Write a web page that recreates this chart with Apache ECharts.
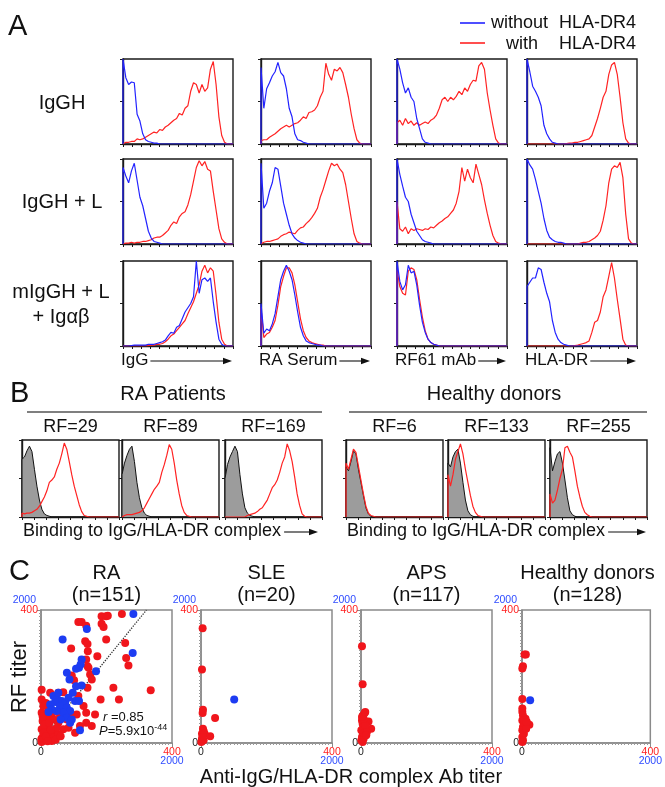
<!DOCTYPE html>
<html><head><meta charset="utf-8">
<script src="https://cdn.jsdelivr.net/npm/echarts@6/dist/echarts.min.js"></script>
<style>html,body{margin:0;padding:0;background:#fff}#c{width:665px;height:787px}</style>
</head><body><div id="c"></div>
<script>
// ---------------- Panel A data (40 channels, fraction of max) ----------------
const IgGH_IgG_without=[1.00,0.78,0.70,0.73,0.72,0.35,0.27,0.12,0.05,0.03,
0.02,0.01,0.01,0,0,0,0,0,0,0,
0,0,0,0,0,0,0,0,0,0,
0,0,0,0,0,0,0,0,0,0];
const IgGH_IgG_with=[0.01,0.02,0.02,0.03,0.03,0.06,0.05,0.06,0.08,0.10,
0.12,0.14,0.13,0.17,0.16,0.20,0.22,0.25,0.28,0.30,
0.36,0.34,0.42,0.45,0.62,0.72,0.70,0.60,0.70,0.62,
0.66,0.88,0.97,0.70,0.32,0.10,0.02,0,0,0];
const IgGH_RASerum_without=[0.90,0.42,0.65,0.72,0.80,0.85,0.96,0.84,0.80,0.65,
0.42,0.32,0.12,0.05,0.04,0.02,0.01,0,0,0,
0,0,0,0,0,0,0,0,0,0,
0,0,0,0,0,0,0,0,0,0];
const IgGH_RASerum_with=[0.04,0.05,0.05,0.08,0.10,0.12,0.15,0.18,0.20,0.22,
0.20,0.22,0.24,0.25,0.28,0.32,0.30,0.37,0.38,0.40,
0.45,0.55,0.62,0.95,0.82,0.75,0.88,0.86,0.90,0.84,
0.70,0.55,0.35,0.18,0.05,0.01,0,0,0,0];
const IgGH_RF61_without=[1.00,0.88,0.72,0.60,0.66,0.55,0.50,0.30,0.18,0.06,
0.02,0.01,0,0,0,0,0,0,0,0,
0,0,0,0,0,0,0,0,0,0,
0,0,0,0,0,0,0,0,0,0];
const IgGH_RF61_with=[0.25,0.28,0.22,0.30,0.24,0.27,0.22,0.25,0.22,0.24,
0.26,0.24,0.28,0.30,0.34,0.42,0.52,0.55,0.50,0.55,
0.52,0.56,0.62,0.58,0.66,0.62,0.70,0.75,0.74,0.92,
0.96,0.88,0.60,0.40,0.22,0.06,0.01,0,0,0];
const IgGH_HLADR_without=[1.00,0.85,0.68,0.62,0.55,0.45,0.22,0.12,0.06,0.02,
0.01,0,0,0,0,0,0,0,0,0,
0,0,0,0,0,0,0,0,0,0,
0,0,0,0,0,0,0,0,0,0];
const IgGH_HLADR_with=[0,0,0,0,0,0,0,0,0,0,
0,0,0,0,0.005,0.01,0.01,0.02,0.02,0.03,
0.04,0.05,0.06,0.10,0.20,0.30,0.42,0.55,0.62,0.82,
0.93,0.96,0.82,0.55,0.25,0.06,0.01,0,0,0];

const IgGHL_IgG_without=[0.90,0.80,0.72,0.86,0.95,0.75,0.55,0.45,0.30,0.15,
0.07,0.03,0.02,0.01,0,0,0,0,0,0,
0,0,0,0,0,0,0,0,0,0,
0,0,0,0,0,0,0,0,0,0];
const IgGHL_IgG_with=[0.01,0.01,0.01,0.02,0.01,0.02,0.02,0.03,0.03,0.04,
0.05,0.07,0.08,0.08,0.10,0.13,0.16,0.22,0.26,0.24,
0.32,0.36,0.38,0.46,0.58,0.74,0.90,0.98,0.92,0.97,
0.88,0.86,0.62,0.40,0.18,0.06,0.02,0,0,0];
const IgGHL_RASerum_without=[0.95,0.42,0.48,0.62,0.72,0.90,0.88,0.68,0.48,0.35,
0.22,0.12,0.07,0.04,0.02,0.01,0,0,0,0,
0,0,0,0,0,0,0,0,0,0,
0,0,0,0,0,0,0,0,0,0];
const IgGHL_RASerum_with=[0.02,0.02,0.03,0.03,0.04,0.05,0.06,0.09,0.11,0.12,
0.14,0.13,0.12,0.16,0.19,0.20,0.24,0.27,0.31,0.36,
0.42,0.55,0.64,0.75,0.86,0.95,0.92,0.94,0.88,0.84,
0.70,0.50,0.30,0.12,0.03,0.01,0,0,0,0];
const IgGHL_RF61_without=[1.00,0.82,0.68,0.55,0.50,0.35,0.25,0.15,0.10,0.05,
0.03,0.02,0.01,0,0,0,0,0,0,0,
0,0,0,0,0,0,0,0,0,0,
0,0,0,0,0,0,0,0,0,0];
const IgGHL_RF61_with=[0.50,0.18,0.15,0.20,0.12,0.18,0.16,0.18,0.17,0.16,
0.18,0.17,0.20,0.19,0.22,0.25,0.27,0.30,0.32,0.36,
0.40,0.48,0.62,0.90,0.74,0.88,0.78,0.72,0.94,0.82,
0.70,0.52,0.36,0.22,0.10,0.03,0.01,0,0,0];
const IgGHL_HLADR_without=[1.00,0.93,0.88,0.76,0.62,0.48,0.30,0.16,0.08,0.05,
0.03,0.02,0.02,0.01,0,0,0,0,0,0,
0,0,0,0,0,0,0,0,0,0,
0,0,0,0,0,0,0,0,0,0];
const IgGHL_HLADR_with=[0,0,0,0,0,0,0,0,0,0,
0,0,0,0,0,0,0,0,0,0.01,
0.02,0.02,0.03,0.05,0.07,0.10,0.15,0.28,0.45,0.72,
0.88,0.92,0.90,0.96,0.78,0.35,0.06,0.01,0,0];

const mIgGHL_IgG_without=[0,0,0,0.005,0.01,0.01,0.01,0.01,0.01,0.02,
0.02,0.02,0.03,0.04,0.05,0.07,0.12,0.16,0.15,0.22,
0.24,0.32,0.40,0.45,0.50,0.58,1.00,0.62,0.78,0.80,
0.76,0.80,0.52,0.28,0.08,0.02,0,0,0,0];
const mIgGHL_IgG_with=[0,0,0,0,0,0,0,0,0,0.005,
0.01,0.01,0.02,0.02,0.03,0.05,0.08,0.12,0.14,0.18,
0.22,0.26,0.30,0.38,0.45,0.52,0.62,0.72,0.88,0.95,
0.86,0.92,0.88,0.60,0.28,0.08,0.02,0,0,0];
const mIgGHL_RASerum_without=[0.50,0.15,0.20,0.18,0.26,0.38,0.58,0.78,0.88,0.95,
0.88,0.78,0.60,0.40,0.22,0.12,0.06,0.04,0.03,0.02,
0.01,0.01,0,0,0,0,0,0,0,0,
0,0,0,0,0,0,0,0,0,0];
const mIgGHL_RASerum_with=[0.45,0.10,0.14,0.16,0.22,0.30,0.48,0.70,0.82,0.92,
0.92,0.86,0.72,0.52,0.32,0.18,0.10,0.06,0.04,0.03,
0.02,0.01,0.01,0,0,0,0,0,0,0,
0,0,0,0,0,0,0,0,0,0];
const mIgGHL_RF61_without=[1.00,0.76,0.66,0.72,0.95,0.86,0.88,0.72,0.48,0.28,
0.16,0.08,0.04,0.02,0.01,0,0,0,0,0,
0,0,0,0,0,0,0,0,0,0,
0,0,0,0,0,0,0,0,0,0];
const mIgGHL_RF61_with=[0.90,0.70,0.62,0.60,0.88,0.92,0.90,0.78,0.55,0.34,
0.18,0.08,0.04,0.02,0.01,0,0,0,0,0,
0,0,0,0,0,0,0,0,0,0,
0,0,0,0,0,0,0,0,0,0];
const mIgGHL_HLADR_without=[0.70,0.75,0.80,0.80,0.92,0.90,0.75,0.62,0.52,0.30,
0.16,0.08,0.04,0.02,0.01,0,0,0,0,0,
0,0,0,0,0,0,0,0,0,0,
0,0,0,0,0,0,0,0,0,0];
const mIgGHL_HLADR_with=[0,0,0,0,0,0,0,0,0,0,
0,0,0,0,0,0,0,0.005,0.01,0.02,
0.03,0.04,0.06,0.16,0.28,0.30,0.40,0.58,0.66,0.82,
0.98,0.80,0.55,0.32,0.08,0.01,0,0,0,0];

const rowLabels=['IgGH','IgGH + L','mIgGH + L\n+ Igαβ'];
const colLabels=['IgG','RA Serum','RF61 mAb','HLA-DR'];
const legendNames=['without','with'];
const legendTarget='HLA-DR4';

// ---------------- Panel B data ----------------
const RF29_control=[0.75,0.78,0.86,0.92,0.85,0.62,0.40,0.22,0.10,0.04,
0.02,0.01,0,0,0,0,0,0,0,0,
0,0,0,0,0,0,0,0,0,0,
0,0,0,0,0,0,0,0,0,0];
const RF29_binding=[0.05,0.04,0.05,0.05,0.06,0.08,0.10,0.14,0.20,0.26,
0.34,0.45,0.48,0.52,0.62,0.70,0.82,0.96,0.88,0.72,
0.55,0.40,0.28,0.16,0.07,0.02,0.01,0,0,0,
0,0,0,0,0,0,0,0,0,0];
const RF89_control=[0.55,0.70,0.80,0.88,0.92,0.72,0.45,0.25,0.12,0.05,
0.02,0.01,0,0,0,0,0,0,0,0,
0,0,0,0,0,0,0,0,0,0,
0,0,0,0,0,0,0,0,0,0];
const RF89_binding=[0.02,0.02,0.03,0.03,0.03,0.04,0.05,0.06,0.08,0.12,
0.18,0.24,0.30,0.36,0.40,0.45,0.58,0.68,0.80,0.94,
0.88,0.70,0.48,0.30,0.15,0.06,0.02,0.01,0,0,
0,0,0,0,0,0,0,0,0,0];
const RF169_control=[0.50,0.68,0.78,0.85,0.92,0.85,0.55,0.30,0.12,0.05,
0.02,0.01,0,0,0,0,0,0,0,0,
0,0,0,0,0,0,0,0,0,0,
0,0,0,0,0,0,0,0,0,0];
const RF169_binding=[0,0,0,0,0,0,0,0,0,0.02,
0.03,0.04,0.05,0.07,0.10,0.12,0.17,0.22,0.30,0.38,
0.42,0.48,0.58,0.70,0.78,0.95,0.86,0.72,0.52,0.30,
0.15,0.04,0.01,0,0,0,0,0,0,0];
const RF6_control=[0.65,0.60,0.72,0.86,0.82,0.62,0.45,0.28,0.12,0.04,
0.01,0,0,0,0,0,0,0,0,0,
0,0,0,0,0,0,0,0,0,0,
0,0,0,0,0,0,0,0,0,0];
const RF6_binding=[0.70,0.62,0.75,0.88,0.84,0.66,0.48,0.30,0.14,0.05,
0.02,0.01,0,0,0,0,0,0,0,0,
0,0,0,0,0,0,0,0,0,0,
0,0,0,0,0,0,0,0,0,0];
const RF133_control=[0.70,0.65,0.78,0.85,0.88,0.70,0.45,0.22,0.08,0.03,
0.01,0,0,0,0,0,0,0,0,0,
0,0,0,0,0,0,0,0,0,0,
0,0,0,0,0,0,0,0,0,0];
const RF133_binding=[0.55,0.40,0.55,0.75,0.85,0.95,0.82,0.62,0.45,0.28,
0.14,0.06,0.02,0.01,0,0,0,0,0,0,
0,0,0,0,0,0,0,0,0,0,
0,0,0,0,0,0,0,0,0,0];
const RF255_control=[0.90,0.60,0.72,0.82,0.85,0.70,0.48,0.25,0.08,0.03,
0.01,0,0,0,0,0,0,0,0,0,
0,0,0,0,0,0,0,0,0,0,
0,0,0,0,0,0,0,0,0,0];
const RF255_binding=[0.30,0.18,0.22,0.35,0.50,0.62,0.90,0.92,0.84,0.78,
0.60,0.40,0.26,0.14,0.06,0.03,0.01,0,0,0,
0,0,0,0,0,0,0,0,0,0,
0,0,0,0,0,0,0,0,0,0];
const bGroups=['RA Patients','Healthy donors'];
const bRA=['RF=29','RF=89','RF=169'];
const bHD=['RF=6','RF=133','RF=255'];
const bXLabel='Binding to IgG/HLA-DR complex';

// ---------------- Panel C data (red: 0-400 scale, blue: 0-2000 scale) ----------------
const RA_red=[[114,364],[124,364],[138,353],[185,381],[199,381],[204,383],[185,359],[191,349],[247,388],
[92,284],[135,306],[142,298],[199,311],[257,301],[143,276],[138,251],[142,231],[145,226],
[260,256],[267,233],[172,261],[150,206],[155,191],[94,203],[101,189],[142,166],[221,166],
[335,159],[238,131],[182,131],[68,153],[53,151],[28,151],[2,131],[2,91],[18,86],[26,76],
[38,71],[53,61],[79,71],[94,81],[109,86],[138,91],[138,61],[155,51],[104,31],[68,41],
[43,31],[12,51],[2,41],[7,21],[1,11],[18,11],[28,26],[5,66],[23,46],[38,16],[53,26],
[12,8],[2,3],[33,6],[84,46],[119,51],[58,81],[23,101],[7,111],[48,46],[130,111],[114,141],
[165,86],[3,15],[8,30],[15,20],[20,5],[10,55],[30,40],[45,10],[60,20],[25,60],[35,90],
[15,120],[70,100],[5,80],[2,160]];
const RA_blue=[[700,1715],[1410,1940],[330,1555],[1400,1355],[620,1255],[605,1180],[580,1130],[535,1115],
[395,1055],[435,955],[840,1080],[620,865],[190,705],[250,655],[315,630],[370,605],[215,615],
[140,580],[290,555],[395,530],[445,480],[340,455],[240,480],[165,505],[520,630],[580,630],
[595,190],[445,305],[395,380],[485,755],[420,680],[265,755],[115,465],[470,355],[300,355],[535,855]];
const RA_fit=[[0,10],[322,400]];
const SLE_red=[[5,345],[3,221],[6,100],[5,90],[43,75],[6,43],[8,36],[3,28],[11,28],[28,20],[3,13],[8,8],[1,3],[5,18]];
const SLE_blue=[[507,653]];
const APS_red=[[3,291],[5,177],[11,90],[6,83],[23,65],[31,43],[3,68],[5,58],[8,48],[1,38],[6,28],[3,18],[8,13],[1,8],[5,3],[13,53],[18,33],[8,73],[3,78],[16,23],[13,93]];
const APS_blue=[];
const HD_red=[[8,266],[12,266],[3,231],[1,224],[1,132],[1,104],[1,94],[11,73],[23,55],[3,83],[1,68],[8,58],[3,48],[1,38],[6,28],[1,18],[3,8],[1,3],[13,43],[7,68],[15,63]];
const HD_blue=[[127,643]];
const cTitles=['RA','SLE','APS','Healthy donors'];
const cCounts=['(n=151)','(n=20)','(n=117)','(n=128)'];
const cStats=['0.85','5.9x10','-44'];
const redMax=400, blueMax=2000;

// ---------------- build ----------------
const FONT='"Liberation Sans", Arial, Helvetica, sans-serif';
const RED='#ff2323', BLUE='#2323ff', DOTRED='#f0161c', DOTBLUE='#1d3cf2';
const grids=[], xAxes=[], yAxes=[], series=[], G=[];
const ctx=document.createElement('canvas').getContext('2d');
function tw(t,s){ctx.font=s+'px '+FONT;return ctx.measureText(t).width;}
function T(text,x,y,size,extra){return Object.assign({type:'text',x:x,y:y,z:100,style:Object.assign({text:text,fontSize:size,fontFamily:FONT,fill:'#111',align:'left',verticalAlign:'middle'},(extra&&extra.style)||{})},(extra&&extra.el)||{});}
function L(x1,y1,x2,y2,c,w){return {type:'line',z:100,shape:{x1:x1,y1:y1,x2:x2,y2:y2},style:{stroke:c||'#111',lineWidth:w||1.2}};}
function arrow(x1,x2,y){G.push(L(x1,y,x2-5,y,'#111',1.1));G.push({type:'polygon',z:100,shape:{points:[[x2,y],[x2-9,y-3.2],[x2-9,y+3.2]]},style:{fill:'#111'}});}
function hist(arr){return [[0,0]].concat(arr.map(function(v,i){return [i,v];}));}
function histAxes(rect,tickInt){
  const gi=grids.length;
  grids.push(Object.assign({show:true,borderColor:'#1a1a1a',borderWidth:1.4},rect));
  const xi=xAxes.length;
  xAxes.push({gridIndex:gi,type:'value',min:0,max:39,interval:tickInt,axisLine:{show:true,onZero:false,lineStyle:{color:'#1a1a1a',width:1.4}},axisTick:{show:true,length:3,lineStyle:{color:'#1a1a1a',width:1}},axisLabel:{show:false},splitLine:{show:false}});
  const yi=yAxes.length;
  yAxes.push({gridIndex:gi,type:'value',min:0,max:1,interval:0.5,axisLine:{show:true,onZero:false,lineStyle:{color:'#1a1a1a',width:1.4}},axisTick:{show:true,length:3,lineStyle:{color:'#1a1a1a',width:1}},axisLabel:{show:false},splitLine:{show:false}});
  return [xi,yi];
}
function lineSeries(ax,arr,color,w,area){
  const s={type:'line',xAxisIndex:ax[0],yAxisIndex:ax[1],data:hist(arr),symbol:'none',showSymbol:false,lineStyle:{color:color,width:w},itemStyle:{color:color},clip:true,silent:true};
  if(area){s.areaStyle={color:area,opacity:1};}
  return s;
}

// Panel A
const aCols=[123,261,397,527], aTops=[59,159,261], aW=110, aH=85;
const aData=[
 [[IgGH_IgG_without,IgGH_IgG_with],[IgGH_RASerum_without,IgGH_RASerum_with],[IgGH_RF61_without,IgGH_RF61_with],[IgGH_HLADR_without,IgGH_HLADR_with]],
 [[IgGHL_IgG_without,IgGHL_IgG_with],[IgGHL_RASerum_without,IgGHL_RASerum_with],[IgGHL_RF61_without,IgGHL_RF61_with],[IgGHL_HLADR_without,IgGHL_HLADR_with]],
 [[mIgGHL_IgG_without,mIgGHL_IgG_with],[mIgGHL_RASerum_without,mIgGHL_RASerum_with],[mIgGHL_RF61_without,mIgGHL_RF61_with],[mIgGHL_HLADR_without,mIgGHL_HLADR_with]]
];
aData.forEach(function(row,r){row.forEach(function(pair,c){
  const ax=histAxes({left:aCols[c],top:aTops[r],width:aW,height:aH},3.25);
  series.push(lineSeries(ax,pair[1],RED,1.2));
  series.push(lineSeries(ax,pair[0],BLUE,1.2));
});});
G.push(T('A',8,27,29));
// legend
G.push(L(460,23,485,23,BLUE,1.6));G.push(L(460,43,485,43,RED,1.6));
G.push(T(legendNames[0],491,23,18));G.push(T(legendTarget,559,23,18));
G.push(T(legendNames[1],506,44,18));G.push(T(legendTarget,559,44,18));
// row labels
G.push(T(rowLabels[0],62,103,20,{style:{align:'center'}}));
G.push(T(rowLabels[1],62,202,20,{style:{align:'center'}}));
G.push(T(rowLabels[2],61,305,20,{style:{align:'center',lineHeight:25}}));
// column x labels with arrows
colLabels.forEach(function(lab,c){
  const x=aCols[c]-2, y=360;
  G.push(T(lab,x,y,17));
  arrow(x+tw(lab,17)+2,aCols[c]+aW-1,y+1);
});

// Panel B
const bLefts=[22,122,225,346,448,550], bTop=440, bW=97, bH=77;
const bData=[[RF29_control,RF29_binding],[RF89_control,RF89_binding],[RF169_control,RF169_binding],[RF6_control,RF6_binding],[RF133_control,RF133_binding],[RF255_control,RF255_binding]];
const bLabs=bRA.concat(bHD);
bData.forEach(function(pair,k){
  const ax=histAxes({left:bLefts[k],top:bTop,width:bW,height:bH},4.875);
  series.push(lineSeries(ax,pair[0],'#111',1,'#9c9c9c'));
  series.push(lineSeries(ax,pair[1],RED,1.2));
  G.push(T(bLabs[k],bLefts[k]+bW/2,427,18,{style:{align:'center'}}));
});
G.push(T('B',10,394,29));
G.push(T(bGroups[0],173,394,20,{style:{align:'center'}}));
G.push(T(bGroups[1],494,394,20,{style:{align:'center'}}));
G.push(L(27,412,322,412,'#555',1.4));
G.push(L(349,412,647,412,'#555',1.4));
[[23,318],[347,646]].forEach(function(p){
  G.push(T(bXLabel,p[0],531,18));
  arrow(p[0]+tw(bXLabel,18)+3,p[1],532);
});

// Panel C
const cLefts=[41,201,361,522], cTop=610, cW=131, cH=133;
const cData=[[RA_red,RA_blue],[SLE_red,SLE_blue],[APS_red,APS_blue],[HD_red,HD_blue]];
const GR='#8a8a8a';
const labRich={k:{color:'#222',fontSize:10.5,fontFamily:FONT},r:{color:'#ff2020',fontSize:10.5,fontFamily:FONT},b:{color:'#2f4cff',fontSize:10.5,fontFamily:FONT}};
cData.forEach(function(pair,k){
  const gi=grids.length;
  grids.push({left:cLefts[k],top:cTop,width:cW,height:cH,show:true,borderColor:GR,borderWidth:1.5});
  const common={splitLine:{show:false},minorSplitLine:{show:false}};
  const xr=xAxes.length;
  xAxes.push(Object.assign({gridIndex:gi,type:'value',min:0,max:redMax,interval:redMax,axisLine:{show:true,onZero:false,lineStyle:{color:GR,width:1.5}},axisTick:{show:true,length:4,lineStyle:{color:GR}},minorTick:{show:true,splitNumber:40,length:2,lineStyle:{color:'#9a9a9a'}},axisLabel:{show:true,margin:4,formatter:function(v){return Number(v)===0?'{k|0}':'{r|'+v+'}';},rich:labRich}},common));
  const xb=xAxes.length;
  xAxes.push(Object.assign({gridIndex:gi,type:'value',min:0,max:blueMax,interval:blueMax,position:'bottom',offset:9,axisLine:{show:false},axisTick:{show:false},axisLabel:{show:true,margin:4,formatter:function(v){return Number(v)===blueMax?'{b|'+v+'}':'';},rich:labRich}},common));
  const yr=yAxes.length;
  yAxes.push(Object.assign({gridIndex:gi,type:'value',min:0,max:redMax,interval:redMax,axisLine:{show:true,onZero:false,lineStyle:{color:GR,width:1.5}},axisTick:{show:true,length:4,lineStyle:{color:GR}},minorTick:{show:true,splitNumber:40,length:2,lineStyle:{color:'#9a9a9a'}},axisLabel:{show:true,margin:3,formatter:function(v){return Number(v)===0?'{k|0}':'{r|'+v+'}';},rich:labRich}},common));
  const yb=yAxes.length;
  yAxes.push(Object.assign({gridIndex:gi,type:'value',min:0,max:blueMax,interval:blueMax,position:'left',axisLine:{show:false},axisTick:{show:false},axisLabel:{show:true,margin:5,verticalAlign:'bottom',padding:[0,0,4,0],formatter:function(v){return Number(v)===blueMax?'{b|'+v+'}':'';},rich:labRich}},common));
  if(k===0){
    series.push({type:'line',xAxisIndex:xr,yAxisIndex:yr,data:RA_fit,symbol:'none',lineStyle:{color:'#333',width:1.3,type:'dotted'},silent:true,z:1});
  }
  series.push({type:'scatter',xAxisIndex:xr,yAxisIndex:yr,data:pair[0],symbolSize:8,itemStyle:{color:DOTRED,opacity:1},z:2,silent:true});
  series.push({type:'scatter',xAxisIndex:xb,yAxisIndex:yb,data:pair[1],symbolSize:8,itemStyle:{color:DOTBLUE,opacity:1},z:3,silent:true});
  const cx=cLefts[k]+cW/2;
  G.push(T(cTitles[k],cx,573,20,{style:{align:'center'}}));
  G.push(T(cCounts[k],cx,595,20,{style:{align:'center'}}));
});
G.push(T('C',9,572,29));
G.push(T('RF titer',20,677,22,{style:{align:'center'},el:{rotation:Math.PI/2}}));
G.push(T('Anti-IgG/HLA-DR complex Ab titer',351,777,20,{style:{align:'center'}}));
G.push(T('{i|r} =' + cStats[0],103,717,13,{style:{rich:{i:{fontStyle:'italic',fontSize:13,fontFamily:FONT}}}}));
G.push(T('{i|P}=' + cStats[1] + '{s|' + cStats[2] + '}',99,731,13,{style:{rich:{i:{fontStyle:'italic',fontSize:13,fontFamily:FONT},s:{fontSize:9,fontFamily:FONT,verticalAlign:'bottom',padding:[0,0,7,0]}}}}));

const chart=echarts.init(document.getElementById('c'),null,{renderer:'canvas',width:665,height:787});
chart.setOption({animation:false,backgroundColor:'#fff',textStyle:{fontFamily:FONT},grid:grids,xAxis:xAxes,yAxis:yAxes,series:series,graphic:G});
</script></body></html>
